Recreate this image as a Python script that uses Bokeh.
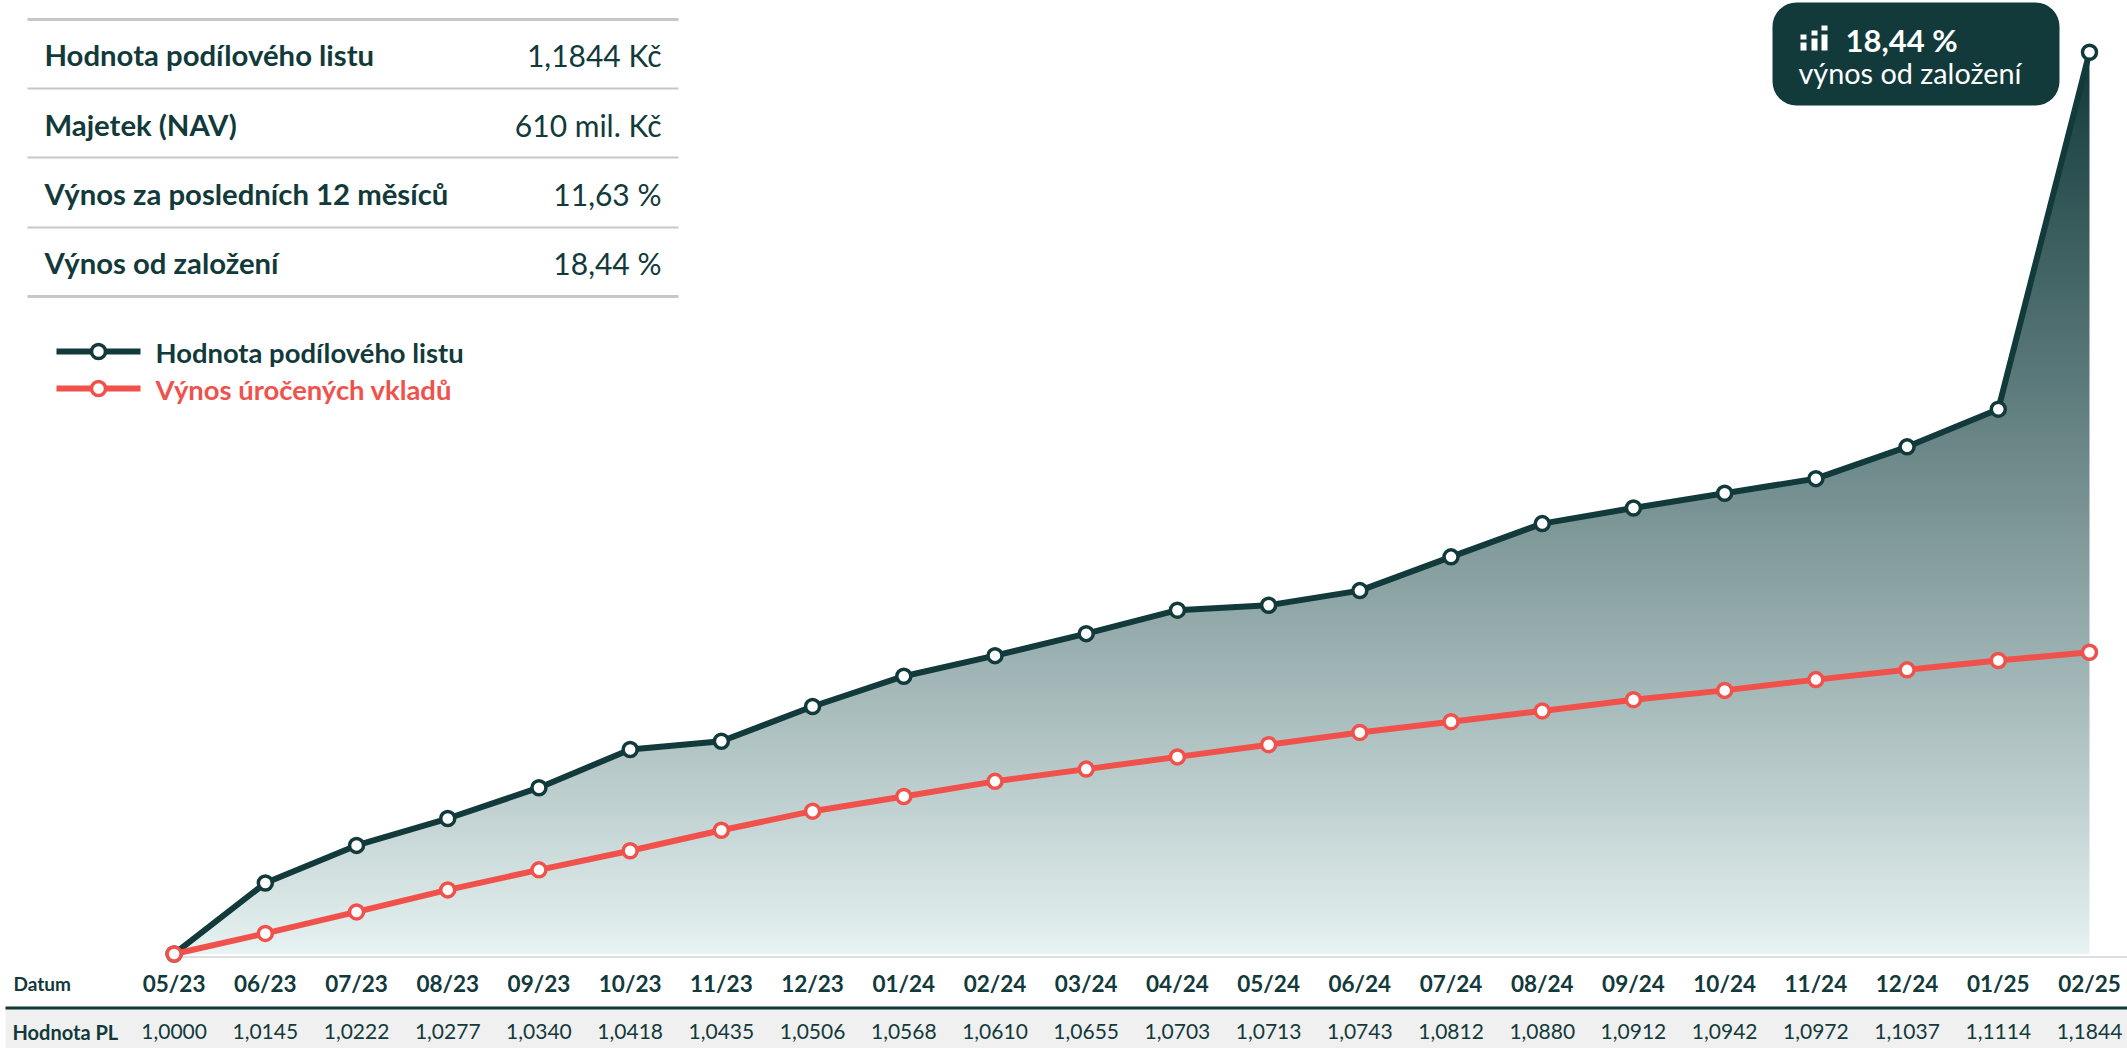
import numpy as np
from bokeh.embed import file_html
from bokeh.resources import INLINE
from bokeh.plotting import figure
from bokeh.core.properties import value
from bokeh.models import Range1d, BoxAnnotation

dates = ["05/23","06/23","07/23","08/23","09/23","10/23","11/23","12/23","01/24","02/24","03/24",
         "04/24","05/24","06/24","07/24","08/24","09/24","10/24","11/24","12/24","01/25","02/25"]
pl_labels = ["1,0000","1,0145","1,0222","1,0277","1,0340","1,0418","1,0435","1,0506","1,0568","1,0610","1,0655",
             "1,0703","1,0713","1,0743","1,0812","1,0880","1,0912","1,0942","1,0972","1,1037","1,1114","1,1844"]
pl_values = [1.0000,1.0145,1.0222,1.0277,1.0340,1.0418,1.0435,1.0506,1.0568,1.0610,1.0655,
             1.0703,1.0713,1.0743,1.0812,1.0880,1.0912,1.0942,1.0972,1.1037,1.1114,1.1844]
deposit_values = [1.0000,1.0042,1.0086,1.0131,1.0172,1.0211,1.0253,1.0292,1.0322,1.0353,1.0378,
                  1.0403,1.0428,1.0453,1.0475,1.0497,1.0520,1.0539,1.0561,1.0581,1.0600,1.0617]
table_labels = ["Hodnota podílového listu","Majetek (NAV)","Výnos za posledních 12 měsíců","Výnos od založení"]
table_values = ["1,1844 Kč","610 mil. Kč","11,63 %","18,44 %"]
legend_labels = ["Hodnota podílového listu","Výnos úročených vkladů"]
row_labels = ["Datum","Hodnota PL"]
callout_big = "18,44 %"
callout_small = "výnos od založení"

DARK = "#123A3B"
RED = "#F0524B"
RULE = "#C6C8C8"
FONT = "Lato"
idx = list(range(len(dates)))

p = figure(width=2127, height=1048, output_backend="svg",
           toolbar_location=None, x_range=Range1d(-1.9035, 21.4167), y_range=Range1d(0.98067, 1.19497),
           x_axis_type=None, y_axis_type=None, min_border=0,
           outline_line_color=None, background_fill_color="white", border_fill_color="white")
p.grid.visible = False
# second pair of ranges: page pixels, for the layout furniture
p.extra_x_ranges["px"] = Range1d(0, 2127)
p.extra_y_ranges["px"] = Range1d(1048, 0)
PX = dict(x_range_name="px", y_range_name="px")

# gradient area: image below, white cover above the fund line
n = 256
c0 = np.array([0x12, 0x3A, 0x3B]); c1 = np.array([0xE8, 0xF3, 0xF3])
t = (np.linspace(0, 1, n) ** 0.94)[:, None]
rgb = (c1 * (1 - t) + c0 * t).astype(np.uint32)
img = (rgb[:, 0] | rgb[:, 1] << 8 | rgb[:, 2] << 16 | 255 << 24).reshape(n, 1)
p.image_rgba(image=[img], x=0, y=pl_values[0], dw=idx[-1], dh=pl_values[-1] - pl_values[0])
p.varea(x=idx, y1=pl_values, y2=[p.y_range.end] * len(idx), fill_color="white")
p.quad(left=[p.x_range.start], right=[0.02], top=[p.y_range.end], bottom=[pl_values[0]], fill_color="white", line_color=None)
p.line([0, p.x_range.end], [0.9994, 0.9994], line_color="#DDDFDF", line_width=2)

p.line(idx, pl_values, line_color=DARK, line_width=6)
p.scatter(idx, pl_values, size=14, fill_color="white", line_color=DARK, line_width=3.5)
p.line(idx, deposit_values, line_color=RED, line_width=6)
p.scatter(idx, deposit_values, size=14, fill_color="white", line_color=RED, line_width=3.5)

# summary table
rule_y = [19, 88, 157, 227, 296]
rule_w = [3, 2, 2, 2, 3]
p.segment(x0=[27]*5, x1=[678]*5, y0=rule_y, y1=rule_y, line_color=RULE, line_width=rule_w, **PX)
row_y = [54, 124, 193, 262]
p.text(x=[44]*4, y=row_y, text=table_labels, text_font=value(FONT), text_font_style="bold",
       text_font_size="29.3px", text_color=DARK, text_baseline="middle", text_align="left", **PX)
p.text(x=[661]*4, y=row_y, text=table_values, text_font=value(FONT), text_font_size="30px",
       text_color=DARK, text_baseline="middle", text_align="right", **PX)

# legend
leg_y = [351, 388]
for yy, col, lab in zip(leg_y, (DARK, RED), legend_labels):
    p.line([56, 140], [yy, yy], line_color=col, line_width=6, **PX)
    p.scatter([98], [yy], size=14, fill_color="white", line_color=col, line_width=3.5, **PX)
    p.text(x=[155], y=[yy + 1], text=[lab], text_font=value(FONT), text_font_style="bold", text_font_size="27.4px",
           text_color=col, text_baseline="middle", **PX)

# callout
p.add_layout(BoxAnnotation(left=1772, right=2059, top=2, bottom=105, fill_color=DARK, fill_alpha=1,
                           line_color=None, border_radius=24, level="annotation", **PX))
p.quad(left=[1800,1800,1811,1811,1821,1821], right=[1806,1806,1817,1817,1827,1827],
       top=[34,42,30,38,25,34], bottom=[39,50,35,50,30,50], fill_color="white", line_color=None, level="overlay", **PX)
p.text(x=[1845], y=[39], text=[callout_big], text_font=value(FONT), text_font_style="bold", text_font_size="31px",
       text_color="white", text_baseline="middle", level="overlay", **PX)
p.text(x=[1798], y=[72], text=[callout_small], text_font=value(FONT), text_font_size="28.8px",
       text_color="white", text_baseline="middle", level="overlay", **PX)

# bottom rows
p.quad(left=[5], right=[2127], top=[1008], bottom=[1048], fill_color="#F0F0F0", line_color=None, **PX)
p.quad(left=[5], right=[2127], top=[1006], bottom=[1009], fill_color=DARK, line_color=None, **PX)
p.text(x=idx, y=[983]*len(idx), text=dates, text_font=value(FONT), text_font_style="bold", text_font_size="22.5px",
       text_color=DARK, text_align="center", text_baseline="middle", y_range_name="px")
p.text(x=idx, y=[1031]*len(idx), text=pl_labels, text_font=value(FONT), text_font_size="21px",
       text_color=DARK, text_align="center", text_baseline="middle", y_range_name="px")
p.text(x=[13], y=[983], text=[row_labels[0]], text_font=value(FONT), text_font_size="19px", text_font_style="bold",
       text_color=DARK, text_baseline="middle", **PX)
p.text(x=[12], y=[1031], text=[row_labels[1]], text_font=value(FONT), text_font_size="20px", text_font_style="bold",
       text_color=DARK, text_baseline="middle", **PX)

open("out.html", "w").write(file_html(p, INLINE))
